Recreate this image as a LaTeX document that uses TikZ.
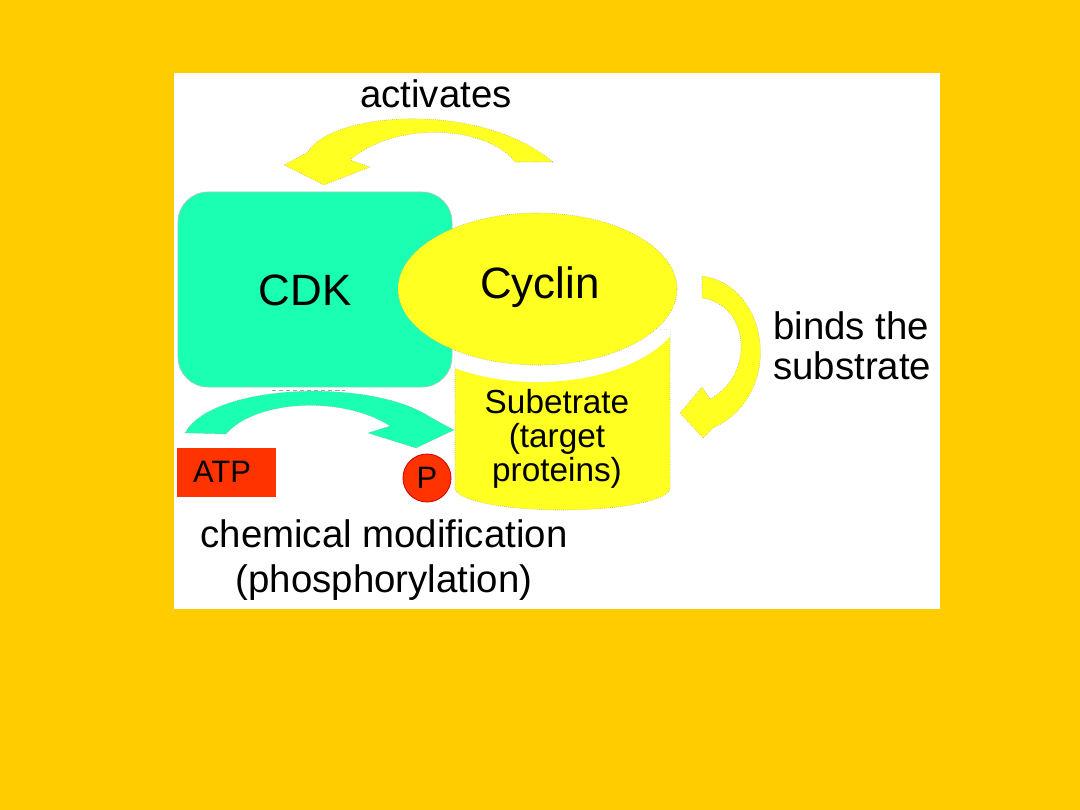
\documentclass[tikz,border=0pt]{standalone}
\usepackage{fontspec}
\setmainfont{Liberation Sans}
\usetikzlibrary{shapes.geometric}
\definecolor{bgorange}{HTML}{FFCC00}
\definecolor{cdkgreen}{HTML}{1AFFB2}
\definecolor{ylw}{HTML}{FFFF22}
\definecolor{atpred}{HTML}{FF3300}
\tikzset{
  edgeline/.style={draw=black!35, densely dotted, line width=0.4pt},
  biglabel/.style={font=\fontsize{31.2}{36}\selectfont, text=black},
  txtlabel/.style={font=\fontsize{27.3}{32.6}\selectfont, text=black, align=center, inner sep=0pt},
  smalllabel/.style={font=\fontsize{22}{26}\selectfont, text=black}
}
\begin{document}
\begin{tikzpicture}[x=0.025cm, y=-0.025cm]
\useasboundingbox (0,0) rectangle (1080,810);
\fill[bgorange] (0,0) rectangle (1080,810);
\fill[white] (174,73) rectangle (940,609);

% activates arrow
\path[fill=ylw, edgeline] (553,162) -- (515,162) .. controls (490,128) and (400,118) .. (350,160)
  -- (370,167) -- (324,185) -- (284,165) -- (308,152) .. controls (330,112) and (480,100) .. (553,162) -- cycle;
\node[txtlabel] (act) at (436,94) {activates};

% CDK
\node[draw=black!25, fill=cdkgreen, rounded corners=0.75cm, minimum width=6.85cm, minimum height=4.875cm, inner sep=0pt] (cdk) at (315,289.5) {};
\node[biglabel] (cdktext) at (305,290) {CDK};

% substrate cylinder
\path[fill=ylw, edgeline] (455,330) -- (455,488) arc[start angle=180, end angle=360, x radius=2.6875cm, y radius=0.55cm] -- (670,330) -- cycle;
\begin{scope}
  \clip (455,330) -- (455,488) arc[start angle=180, end angle=360, x radius=2.6875cm, y radius=0.55cm] -- (670,330) -- cycle;
  \fill[white] (537.5,300) ellipse [x radius=3.7cm, y radius=2.05cm];
\end{scope}
\node[font=\fontsize{23.7}{24.1}\selectfont, align=center, inner sep=0pt] (subs) at (557,439) {Subetrate\\(target\\proteins)};

% Cyclin
\node[ellipse, fill=ylw, edgeline, minimum width=6.975cm, minimum height=3.8cm, inner sep=0pt] (cyc) at (537.5,289) {};
\node[biglabel] (cyctext) at (540,287) {Cyclin};

% binds arrow
\path[fill=ylw, edgeline] (702,276) .. controls (770,285) and (785,395) .. (713,428)
  -- (703,438) -- (680,413) -- (702,387) -- (710,399) .. controls (755,375) and (750,305) .. (702,298) -- cycle;
\node[txtlabel, align=left, anchor=west, font=\fontsize{27.3}{28.3}\selectfont] (binds) at (773,346) {binds the\\substrate};

% green phosphorylation arrow
\draw[gray!70, densely dashed, line width=0.6pt] (272,390) -- (345,390);
\path[fill=cdkgreen, edgeline] (185,433) .. controls (212,383) and (372,378) .. (430,417)
  -- (454,430) -- (416,448) -- (368,433) -- (390,426) .. controls (342,395) and (255,400) .. (226,434) -- cycle;

% ATP and P
\node[fill=atpred, minimum width=2.475cm, minimum height=1.225cm, inner sep=0pt] (atp) at (226.5,472.5) {};
\node[smalllabel] (atptext) at (222,472) {ATP};
\node[circle, fill=atpred, draw=red!85!black, line width=0.6pt, minimum size=1.2cm, inner sep=0pt, smalllabel] (p) at (427,478) {P};

% chemical modification
\node[txtlabel] (chem) at (384,560) {chemical modification\\(phosphorylation)};
\end{tikzpicture}
\end{document}
